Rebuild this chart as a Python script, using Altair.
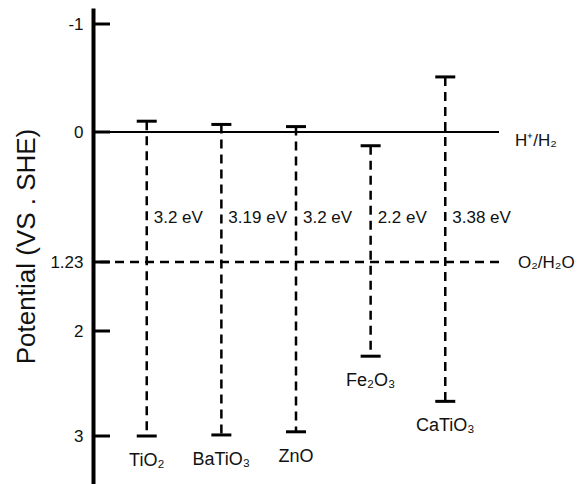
import altair as alt
import pandas as pd

# ---- data ----
MATERIALS = ["TiO₂", "BaTiO₃", "ZnO", "Fe₂O₃", "CaTiO₃"]
CB_EDGE = [-0.10, -0.07, -0.05, 0.13, -0.51]   # conduction band edge (V vs SHE)
VB_EDGE = [3.00, 2.99, 2.96, 2.24, 2.67]       # valence band edge (V vs SHE)
GAP_LABELS = ["3.2 eV", "3.19 eV", "3.2 eV", "2.2 eV", "3.38 eV"]
TICK_VALUES = [-1, 0, 1.23, 2, 3]
REF_LEVELS = [0, 1.23]
REF_LABELS = ["H⁺/H₂", "O₂/H₂O"]

# ---- layout / style ----
W, H = 406, 484
FONT = "Liberation Sans"
# the original axis is drawn with uneven tick spacing: piecewise-linear scale
Y_DOMAIN = [-1.148, -1, 0, 1.23, 2, 3, 3.457]
Y_RANGE = [8, 24, 132, 262, 331, 436, 484]
yscale = alt.Scale(domain=Y_DOMAIN, range=Y_RANGE, nice=False, zero=False)
xscale = alt.Scale(type="point", domain=MATERIALS, padding=0.72)

Y_AXIS = alt.Axis(values=TICK_VALUES, ticks=False, grid=False,
                  domainWidth=4, domainColor="black",
                  labelFont=FONT, labelFontSize=17, labelColor="#111",
                  labelPadding=10,
                  labelExpr="datum.value < 0 ? '-' + format(-datum.value, '~g') : format(datum.value, '~g')",
                  title="Potential (VS . SHE)", titleFont=FONT,
                  titleFontSize=26, titleFontWeight="normal",
                  titleColor="#111", titlePadding=10)


def Y(field):
    return alt.Y(field, scale=yscale, axis=Y_AXIS)


bands = pd.DataFrame({
    "material": MATERIALS,
    "cb": CB_EDGE,
    "vb": VB_EDGE,
    "gap": GAP_LABELS,
    "o2": [REF_LEVELS[1]] * len(MATERIALS),
})
ticks = pd.DataFrame({"v": TICK_VALUES})
refs = pd.DataFrame({"v": REF_LEVELS, "label": REF_LABELS})

X = alt.X("material:N", scale=xscale, axis=None)

axis_layer = alt.Chart(ticks).mark_rule(strokeWidth=3, color="black").encode(
    y=Y("v:Q"), x=alt.value(0), x2=alt.value(17),
)

h2_line = alt.Chart(refs).transform_filter(alt.datum.v == REF_LEVELS[0]).mark_rule(
    strokeWidth=2, color="black").encode(y=Y("v:Q"))
o2_line = alt.Chart(refs).transform_filter(alt.datum.v == REF_LEVELS[1]).mark_rule(
    strokeWidth=2.5, color="black", strokeDash=[9, 6]).encode(y=Y("v:Q"))

h2_text = alt.Chart(refs).transform_filter(alt.datum.v == REF_LEVELS[0]).mark_text(
    align="left", baseline="middle", dx=16, dy=9, font=FONT, fontSize=17, color="#111"
).encode(x=alt.value(W), y=Y("v:Q"), text="label:N")
o2_text = alt.Chart(refs).transform_filter(alt.datum.v == REF_LEVELS[1]).mark_text(
    align="left", baseline="middle", dx=19, dy=1, font=FONT, fontSize=17, color="#111"
).encode(x=alt.value(W), y=Y("v:Q"), text="label:N")

base = alt.Chart(bands)
band_lines = base.mark_rule(strokeWidth=2.5, color="black", strokeDash=[9, 6]).encode(
    x=X, y=Y("cb:Q"), y2="vb:Q")
cap_top = base.mark_tick(size=20, thickness=3, color="black", opacity=1).encode(
    x=X, y=Y("cb:Q"))
cap_bot = base.mark_tick(size=20, thickness=3, color="black", opacity=1).encode(
    x=X, y=Y("vb:Q"))
gap_text = base.mark_text(align="left", baseline="middle", dx=7, dy=-44,
                          font=FONT, fontSize=17, color="#111").encode(
    x=X, y=Y("o2:Q"), text="gap:N")
name_text = base.mark_text(align="center", baseline="middle", dy=25,
                           font=FONT, fontSize=18, color="#111").encode(
    x=X, y=Y("vb:Q"), text="material:N")

chart = alt.layer(
    axis_layer, h2_line, o2_line, band_lines, cap_top, cap_bot,
    gap_text, name_text, h2_text, o2_text,
).properties(
    width=W, height=H,
    background="white",
    autosize=alt.AutoSizeParams(type="none"),
    padding={"left": 93, "top": 0, "right": 79, "bottom": 0},
).configure_view(stroke=None)

chart.save("out.html", embed_options={"renderer": "svg", "actions": False})
